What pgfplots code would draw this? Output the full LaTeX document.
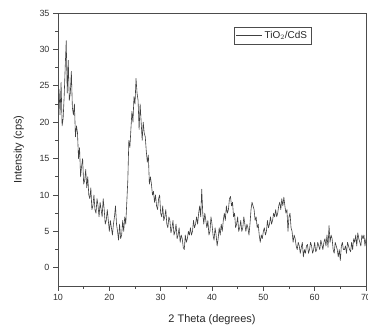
\documentclass[border=0pt]{standalone}
\usepackage{pgfplots}
\pgfplotsset{compat=1.18}
\usepackage{fontspec}
\setmainfont{Liberation Sans}
\pgfplotstableread{
x y
10.0 22.0
10.2 24.5
10.4 21.0
10.6 25.5
10.8 19.5
11.0 20.5
11.2 23.5
11.4 27.5
11.6 31.2
11.8 24.0
12.0 28.5
12.2 23.0
12.4 24.0
12.6 27.0
12.8 22.0
13.0 21.0
13.2 22.5
13.4 18.0
13.6 19.5
13.8 18.5
14.0 15.0
14.2 16.5
14.4 12.5
14.6 14.0
14.8 15.0
15.0 11.5
15.2 12.0
15.4 13.5
15.6 11.0
15.8 12.5
16.0 10.0
16.2 9.5
16.4 11.0
16.6 8.0
16.8 8.5
17.0 10.0
17.2 8.0
17.4 7.5
17.6 9.5
17.8 8.5
18.0 7.0
18.2 9.0
18.4 8.0
18.6 7.0
18.8 9.5
19.0 8.0
19.2 6.0
19.4 6.5
19.6 8.0
19.8 6.5
20.0 5.0
20.2 6.5
20.4 5.5
20.6 4.5
20.8 6.0
21.0 7.0
21.2 8.5
21.4 6.0
21.6 5.0
21.8 3.8
22.0 6.0
22.2 4.0
22.4 4.5
22.6 6.5
22.8 5.0
23.0 7.0
23.2 6.0
23.4 9.0
23.6 12.0
23.8 17.5
24.0 16.5
24.2 19.0
24.4 21.5
24.6 20.0
24.8 23.5
25.0 22.5
25.2 26.0
25.4 24.0
25.6 23.0
25.8 19.0
26.0 22.5
26.2 20.0
26.4 17.5
26.6 20.0
26.8 18.5
27.0 18.0
27.2 16.0
27.4 14.5
27.6 15.5
27.8 11.5
28.0 12.5
28.2 11.5
28.4 10.0
28.6 10.5
28.8 9.0
29.0 10.0
29.2 8.5
29.4 8.0
29.6 9.5
29.8 10.0
30.0 7.5
30.2 7.0
30.4 8.5
30.6 6.5
30.8 7.0
31.0 8.0
31.2 6.0
31.4 5.5
31.6 7.0
31.8 6.5
32.0 4.8
32.2 5.5
32.4 6.5
32.6 4.5
32.8 5.0
33.0 6.0
33.2 4.0
33.4 4.5
33.6 5.5
33.8 3.5
34.0 4.5
34.2 4.0
34.4 2.8
34.6 2.5
34.8 4.5
35.0 3.5
35.2 4.0
35.4 5.0
35.6 4.5
35.8 5.5
36.0 4.5
36.2 5.0
36.4 6.5
36.6 5.5
36.8 6.0
37.0 7.0
37.2 6.0
37.4 7.5
37.6 8.5
37.8 7.0
38.0 10.8
38.2 7.5
38.4 6.0
38.6 7.5
38.8 6.5
39.0 5.5
39.2 6.5
39.4 4.5
39.6 5.0
39.8 7.0
40.0 6.0
40.2 4.5
40.4 3.8
40.6 5.5
40.8 4.5
41.0 3.0
41.2 4.0
41.4 5.5
41.6 4.5
41.8 6.0
42.0 5.0
42.2 6.5
42.4 7.5
42.6 6.5
42.8 8.5
43.0 7.5
43.2 8.0
43.4 9.5
43.6 9.8
43.8 8.5
44.0 9.0
44.2 7.0
44.4 7.5
44.6 5.5
44.8 6.0
45.0 7.0
45.2 5.0
45.4 5.5
45.6 6.5
45.8 5.0
46.0 5.5
46.2 7.0
46.4 6.0
46.6 5.0
46.8 6.0
47.0 5.5
47.2 4.5
47.4 6.0
47.6 8.0
47.8 9.0
48.0 8.5
48.2 8.0
48.4 6.5
48.6 7.0
48.8 5.5
49.0 6.0
49.2 4.5
49.4 3.5
49.6 4.5
49.8 4.0
50.0 5.0
50.2 5.5
50.4 4.5
50.6 5.0
50.8 6.5
51.0 5.5
51.2 6.0
51.4 7.0
51.6 6.0
51.8 6.5
52.0 7.5
52.2 7.0
52.4 8.0
52.6 7.0
52.8 7.5
53.0 8.5
53.2 9.0
53.4 8.0
53.6 9.5
53.8 8.5
54.0 9.7
54.2 8.5
54.4 7.5
54.6 8.0
54.8 5.0
55.0 7.0
55.2 7.5
55.4 5.5
55.6 5.0
55.8 3.5
56.0 4.5
56.2 4.0
56.4 3.0
56.6 2.5
56.8 3.5
57.0 3.0
57.2 2.0
57.4 2.8
57.6 3.5
57.8 1.5
58.0 2.5
58.2 2.0
58.4 3.0
58.6 3.2
58.8 2.0
59.0 2.5
59.2 3.5
59.4 3.0
59.6 2.0
59.8 2.5
60.0 3.5
60.2 2.2
60.4 2.5
60.6 3.5
60.8 3.0
61.0 2.5
61.2 3.8
61.4 3.2
61.6 2.5
61.8 3.5
62.0 4.0
62.2 3.0
62.4 4.5
62.6 2.8
62.8 5.8
63.0 3.5
63.2 4.5
63.4 4.0
63.6 2.5
63.8 2.0
64.0 3.5
64.2 3.0
64.4 2.5
64.6 1.5
64.8 2.5
65.0 1.0
65.2 3.0
65.4 3.5
65.6 2.5
65.8 2.5
66.0 3.0
66.2 2.0
66.4 3.5
66.6 3.0
66.8 2.5
67.0 2.2
67.2 3.5
67.4 2.5
67.6 4.0
67.8 3.5
68.0 4.5
68.2 3.0
68.4 4.8
68.6 4.0
68.8 3.5
69.0 3.0
69.2 4.5
69.4 4.0
69.6 4.5
69.8 3.0
70.0 4.0
}\xrddata
\begin{document}
\begin{tikzpicture}
\useasboundingbox (0,0) rectangle (368bp,333bp);
\begin{axis}[
  at={(58bp,47bp)}, anchor=south west,
  scale only axis, width=308bp, height=273bp,
  xmin=10, xmax=70, ymin=-2.5, ymax=35,
  xtick={10,20,...,70}, ytick={0,5,...,35},
  minor x tick num=1, minor y tick num=1,
  tick pos=left, tick align=outside,
  major tick length=5bp, minor tick length=3bp,
  axis line style={black!70, line width=0.8pt},
  every tick/.style={black!70, line width=0.6pt},
  ticklabel style={font=\fontsize{9}{10}\selectfont, text=black!80},
  /pgf/number format/assume math mode=true,
  xlabel={2 Theta (degrees)}, ylabel={Intensity (cps)},
  label style={font=\fontsize{11}{12}\selectfont, text=black!85},
  xlabel style={at={(axis description cs:0.5,-0.1245)}, anchor=center},
  ylabel style={at={(axis description cs:-0.127,0.5)}, anchor=center},
  legend style={at={(0.571,0.949)}, anchor=north west, draw=black!70,
    font=\fontsize{10}{11}\selectfont, inner sep=2bp, text=black!85},
  legend cell align=left,
  legend image code/.code={\draw[#1] (0bp,0bp) -- (26bp,0bp);},
]
\addplot[black!75, line width=0.6pt, line join=round] table[x=x, y=y] {\xrddata};
\addlegendentry{TiO$_2$/CdS}
\end{axis}
\end{tikzpicture}
\end{document}
